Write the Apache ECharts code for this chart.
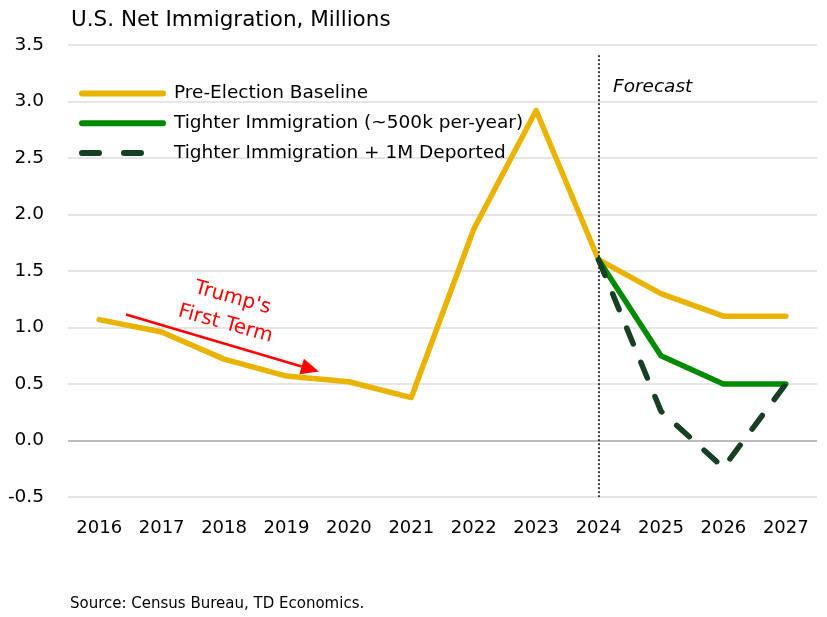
<!DOCTYPE html>
<html><head><meta charset="utf-8">
<script src="https://cdn.jsdelivr.net/npm/echarts@6/dist/echarts.min.js"></script>
<style>html,body{margin:0;padding:0;background:#fff}#c{width:827px;height:617px}</style>
</head><body><div id="c"></div>
<script>
const years = ['2016','2017','2018','2019','2020','2021','2022','2023','2024','2025','2026','2027'];
const baseline = [1.07, 0.96, 0.72, 0.57, 0.52, 0.38, 1.87, 2.92, 1.60, 1.30, 1.10, 1.10];
const tighter = [null, null, null, null, null, null, null, null, 1.60, 0.75, 0.50, 0.50];
const deported = [null, null, null, null, null, null, null, null, 1.60, 0.26, -0.24, 0.50];
const seriesNames = ['Pre-Election Baseline', 'Tighter Immigration (~500k per-year)', 'Tighter Immigration + 1M Deported'];
const yTicks = [-0.5, 0, 0.5, 1, 1.5, 2, 2.5, 3, 3.5];

const FONT = 'DejaVu Sans';
const C1 = '#E9B300', C2 = '#008A00', C3 = '#173F24';
const chart = echarts.init(document.getElementById('c'), null, {renderer: 'canvas'});
const option = {
  animation: false,
  textStyle: {fontFamily: FONT},
  title: {text: 'U.S. Net Immigration, Millions', left: 66, top: 4,
    textStyle: {fontFamily: FONT, fontSize: 21.5, fontWeight: 'normal', color: '#000'}},
  legend: {
    orient: 'vertical', left: 74, top: 79, itemGap: 10.8, itemWidth: 81, itemHeight: 18,
    textStyle: {fontFamily: FONT, fontSize: 18.5, color: '#000', padding: [0, 0, 0, 6]},
    itemStyle: {color: 'transparent', borderWidth: 0, opacity: 0},
    lineStyle: {width: 6, cap: 'round'},
    data: [
      {name: seriesNames[0], lineStyle: {color: C1, width: 6}},
      {name: seriesNames[1], lineStyle: {color: C2, width: 6}},
      {name: seriesNames[2], lineStyle: {color: C3, width: 6, type: [17, 25]}}
    ]
  },
  grid: {left: 68, right: 10, top: 45, bottom: 120},
  xAxis: {
    type: 'category', data: years, boundaryGap: true,
    axisLine: {show: false, onZero: false}, axisTick: {show: false},
    axisLabel: {fontFamily: FONT, fontSize: 18, color: '#000', margin: 22}
  },
  yAxis: {
    type: 'value', min: -0.5, max: 3.5, interval: 0.5,
    axisLine: {show: false}, axisTick: {show: false},
    axisLabel: {fontFamily: FONT, fontSize: 18.5, color: '#000', margin: 24,
      formatter: v => v.toFixed(1)},
    splitLine: {lineStyle: {width: 1.5,
      color: yTicks.map(v => v === 0 ? '#a6a6a6' : '#dcdcdc')}}
  },
  series: [
    {name: seriesNames[0], type: 'line', data: baseline, symbol: 'none', z: 3,
      lineStyle: {color: C1, width: 5.5, cap: 'round', join: 'round'}, itemStyle: {color: C1},
      markLine: {silent: true, symbol: 'none', label: {show: false},
        lineStyle: {color: '#000', type: [2, 2], width: 1.5},
        data: [[{coord: ['2024', 3.41]}, {coord: ['2024', -0.5]}]]}
    },
    {name: seriesNames[1], type: 'line', data: tighter, symbol: 'none', z: 4,
      lineStyle: {color: C2, width: 5.5, cap: 'round', join: 'round'}, itemStyle: {color: C2}},
    {name: seriesNames[2], type: 'line', data: deported, symbol: 'none', z: 5,
      lineStyle: {color: C3, width: 5.5, type: [17, 20], cap: 'round'}, itemStyle: {color: C3}}
  ]
};
chart.setOption(option);

function px(idx, val) {
  const i0 = Math.floor(idx);
  const a = chart.convertToPixel({gridIndex: 0}, [i0, val]);
  const b = chart.convertToPixel({gridIndex: 0}, [i0 + 1, val]);
  return [a[0] + (b[0] - a[0]) * (idx - i0), a[1]];
}
const p1 = px(0.43, 1.115);
const p2 = px(3.52, 0.61);
const ang = Math.atan2(p2[1] - p1[1], p2[0] - p1[0]);
const ah = 18, aw = 8;
const tip = p2;
const bx = tip[0] - ah * Math.cos(ang), by = tip[1] - ah * Math.sin(ang);
const nx = -Math.sin(ang), ny = Math.cos(ang);

chart.setOption({
  graphic: [
    {type: 'line', shape: {x1: p1[0], y1: p1[1], x2: bx, y2: by}, style: {stroke: '#FF0000', lineWidth: 2.5}, z: 10},
    {type: 'polygon', shape: {points: [[tip[0], tip[1]], [bx + nx * aw, by + ny * aw], [bx - nx * aw, by - ny * aw]]},
      style: {fill: '#FF0000'}, z: 10},
    {type: 'text', x: 229, y: 311, rotation: -0.27, z: 10,
      style: {text: "Trump's\nFirst Term", fill: '#FF0000', font: '20px "' + FONT + '"', align: 'center', verticalAlign: 'middle', lineHeight: 27}},
    {type: 'text', x: 613, y: 87, z: 10,
      style: {text: 'Forecast', fill: '#000', font: 'italic 18.5px "' + FONT + '"', verticalAlign: 'middle'}},
    {type: 'text', x: 70, y: 604, z: 10,
      style: {text: 'Source: Census Bureau, TD Economics.', fill: '#000', font: '15px "' + FONT + '"', verticalAlign: 'middle'}}
  ]
});
</script></body></html>
